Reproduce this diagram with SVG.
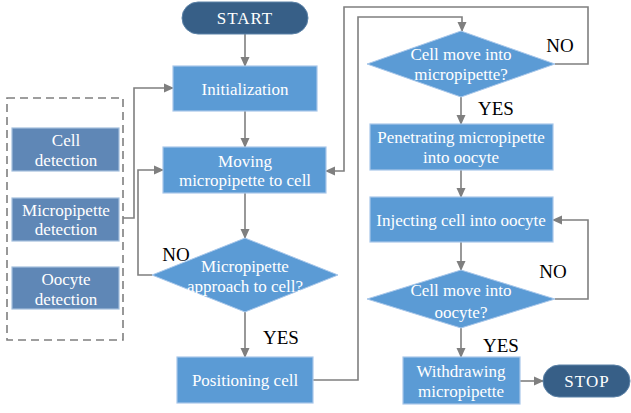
<svg xmlns="http://www.w3.org/2000/svg" width="631" height="413" viewBox="0 0 631 413">
<defs>
<marker id="ah" markerWidth="10" markerHeight="10" refX="9" refY="5" orient="auto" markerUnits="userSpaceOnUse">
<path d="M0,0.5 L10,5 L0,9.5 Z" fill="#7F7F7F"/>
</marker>
</defs>
<style>
.box{fill:#5B9BD5;stroke:#A8C7EA;stroke-width:1.2}
.side{fill:#5F87B6;stroke:#A3BEDD;stroke-width:1.2}
.term{fill:#375F87;stroke:#5D83A8;stroke-width:1}
.dia{fill:#5B9BD5;stroke:#A8C7EA;stroke-width:1}
text{font-family:"Liberation Serif","Times New Roman",serif}
.t{font-size:17px;fill:#FFFFFF;text-anchor:middle}
.lab{font-size:19px;fill:#000000;text-anchor:middle}
.ca{fill:none;stroke:#7F7F7F;stroke-width:1.6;marker-end:url(#ah)}
.dash{fill:none;stroke:#7F7F7F;stroke-width:1.6;stroke-dasharray:8,5}
</style>
<rect width="631" height="413" fill="#FFFFFF"/>
<g id="connectors">
<path class="ca" d="M245,34 V66"/>
<path class="ca" d="M245,111 V147"/>
<path class="ca" d="M245,193 V238"/>
<path class="ca" d="M245,312 V357"/>
<path class="ca" d="M123,218 H134 V88 H173"/>
<path class="ca" d="M152,275 H138 V170 H163"/>
<path class="ca" d="M313,380 H358 V17 H462 V31"/>
<path class="ca" d="M555,64 H588 V7 H344 V171 H326"/>
<path class="ca" d="M461,97 V124"/>
<path class="ca" d="M461,170 V197"/>
<path class="ca" d="M461,242 V270"/>
<path class="ca" d="M555,299 H588 V220 H553"/>
<path class="ca" d="M461,328 V357"/>
<path class="ca" d="M520,381 H543"/>
</g>
<g id="detection-group">
<rect class="dash" x="7" y="98" width="116" height="242"/>
</g>
<g id="start">
<rect class="term" x="182" y="2" width="126" height="32" rx="16"/>
<text class="t" x="245" y="24" letter-spacing="1">START</text>
</g>
<g id="initialization">
<rect class="box" x="173" y="66" width="144" height="45"/>
<text class="t" x="245" y="95">Initialization</text>
</g>
<g id="moving">
<rect class="box" x="163" y="147" width="163" height="46"/>
<text class="t" x="245" y="167">Moving</text>
<text class="t" x="245" y="186">micropipette to cell</text>
</g>
<g id="approach">
<polygon class="dia" points="245,238 338,275 245,312 152,275"/>
<text class="t" x="245" y="272">Micropipette</text>
<text class="t" x="245" y="292">approach to cell?</text>
</g>
<g id="positioning">
<rect class="box" x="177" y="357" width="136" height="46"/>
<text class="t" x="245" y="386">Positioning cell</text>
</g>
<g id="cell-detection">
<rect class="side" x="12" y="128" width="107" height="43"/>
<text class="t" x="66" y="146">Cell</text>
<text class="t" x="66" y="166">detection</text>
</g>
<g id="micropipette-detection">
<rect class="side" x="12" y="198" width="107" height="43"/>
<text class="t" x="66" y="216">Micropipette</text>
<text class="t" x="66" y="235">detection</text>
</g>
<g id="oocyte-detection">
<rect class="side" x="12" y="267" width="107" height="42"/>
<text class="t" x="66" y="285">Oocyte</text>
<text class="t" x="66" y="305">detection</text>
</g>
<g id="into-micropipette">
<polygon class="dia" points="461,31 555,64 461,97 367,64"/>
<text class="t" x="461" y="60">Cell move into</text>
<text class="t" x="461" y="80">micropipette?</text>
</g>
<g id="penetrating">
<rect class="box" x="370" y="124" width="183" height="46"/>
<text class="t" x="461" y="143">Penetrating micropipette</text>
<text class="t" x="461" y="163">into oocyte</text>
</g>
<g id="injecting">
<rect class="box" x="370" y="197" width="183" height="45"/>
<text class="t" x="461" y="226">Injecting cell into oocyte</text>
</g>
<g id="into-oocyte">
<polygon class="dia" points="461,270 555,299 461,328 367,299"/>
<text class="t" x="461" y="296">Cell move into</text>
<text class="t" x="461" y="318">oocyte?</text>
</g>
<g id="withdrawing">
<rect class="box" x="403" y="357" width="117" height="47"/>
<text class="t" x="461" y="377">Withdrawing</text>
<text class="t" x="461" y="397">micropipette</text>
</g>
<g id="stop">
<rect class="term" x="543" y="365" width="87" height="32" rx="16"/>
<text class="t" x="587" y="387" letter-spacing="1">STOP</text>
</g>
<g id="labels">
<text class="lab" x="176" y="261">NO</text>
<text class="lab" x="281" y="344">YES</text>
<text class="lab" x="560" y="52">NO</text>
<text class="lab" x="496" y="115">YES</text>
<text class="lab" x="553" y="278">NO</text>
<text class="lab" x="501" y="352">YES</text>
</g>
</svg>
